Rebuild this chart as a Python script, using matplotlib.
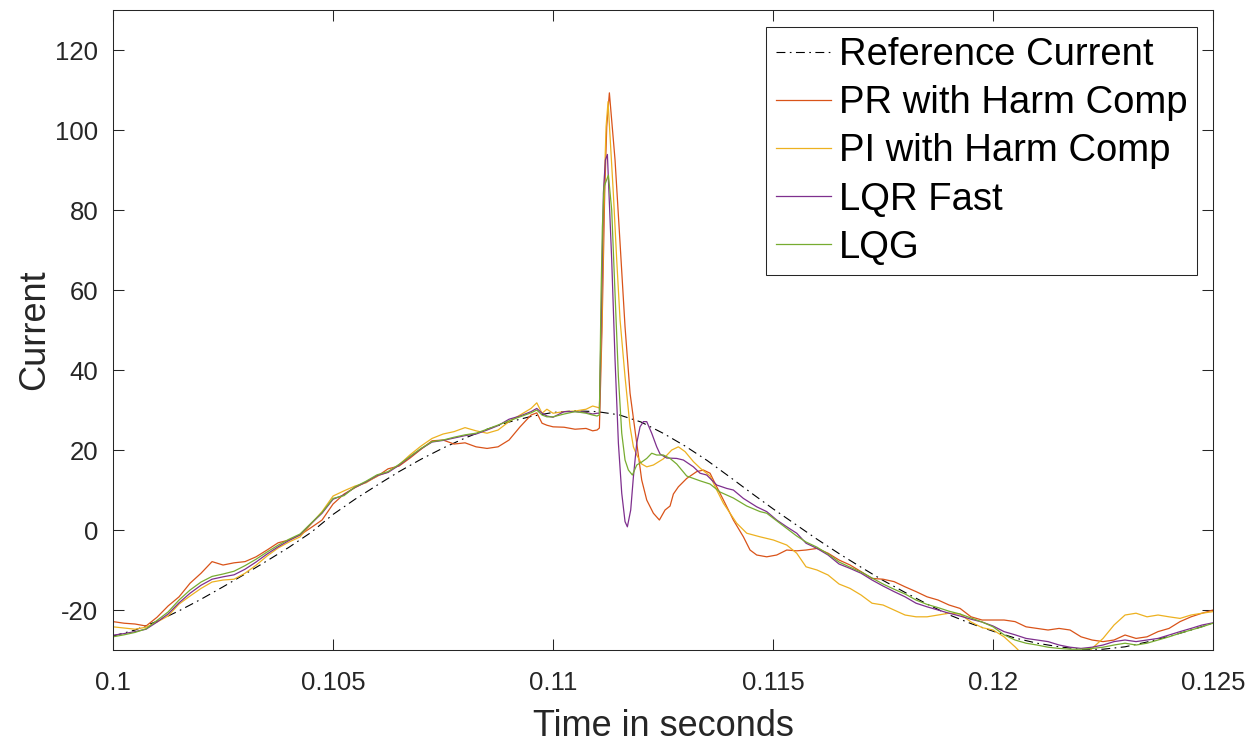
import matplotlib
matplotlib.use('Agg')
import matplotlib.pyplot as plt

plt.rcParams['font.family'] = ['Liberation Sans', 'DejaVu Sans']
plt.rcParams['axes.unicode_minus'] = False

# ---- data (time in s, current) ----
t_ref = [0.1000, 0.1005, 0.1010, 0.1015, 0.1020, 0.1025, 0.1030, 0.1035, 0.1040, 0.1045,
         0.1050, 0.1055, 0.1060, 0.1065, 0.1070, 0.1075, 0.1080, 0.1085, 0.1090, 0.1095,
         0.1100, 0.1105, 0.1110, 0.1115, 0.1120, 0.1125, 0.1130, 0.1135, 0.1140, 0.1145,
         0.1150, 0.1155, 0.1160, 0.1165, 0.1170, 0.1175, 0.1180, 0.1185, 0.1190, 0.1195,
         0.1200, 0.1205, 0.1210, 0.1215, 0.1220, 0.1225, 0.1230, 0.1235, 0.1240, 0.1245,
         0.1250]
i_ref = [-26.5, -25.0, -22.8, -20.2, -17.3, -14.2, -11.0, -7.7, -4.3, -0.6,
         3.9, 7.7, 11.2, 14.6, 17.7, 20.5, 23.0, 25.2, 27.0, 28.4,
         29.4, 29.8, 29.6, 28.8, 27.0, 24.2, 21.0, 17.4, 13.4, 9.3,
         5.3, 1.5, -2.3, -5.9, -9.3, -12.6, -15.6, -18.5, -21.2, -23.4,
         -25.3, -27.0, -28.3, -29.2, -29.8, -29.8, -29.2, -28.0, -26.6, -25.0,
         -23.3]

# time grid shared before the step (0.1 .. 0.111)
t_pre = [0.1000, 0.10025, 0.1005, 0.10075, 0.1010, 0.10125, 0.1015, 0.10175, 0.1020, 0.10225,
         0.1025, 0.10275, 0.1030, 0.10325, 0.1035, 0.10375, 0.1040, 0.10425, 0.1045, 0.10475,
         0.1050, 0.10525, 0.1055, 0.10575, 0.1060, 0.10625, 0.1065, 0.10675, 0.1070, 0.10725,
         0.1075, 0.10775, 0.1080, 0.10825, 0.1085, 0.10875, 0.1090, 0.10925, 0.1095, 0.10963,
         0.10975, 0.10986, 0.1100, 0.11025, 0.1105, 0.11075, 0.1109, 0.1110, 0.111053]
# time grid shared after the transient (0.11575 .. 0.125)
t_post = [0.11575, 0.1160, 0.11625, 0.1165, 0.11675, 0.1170, 0.11725, 0.1175, 0.11775, 0.1180,
          0.11825, 0.1185, 0.11875, 0.1190, 0.11925, 0.1195, 0.11975, 0.1200, 0.12025, 0.1205,
          0.12075, 0.1210, 0.12125, 0.1215, 0.12175, 0.1220, 0.12225, 0.1225, 0.12275, 0.1230,
          0.12325, 0.1235, 0.12375, 0.1240, 0.12425, 0.1245, 0.12475, 0.1250]

# PR with harmonic compensation
pr_pre = [-22.9, -23.3, -23.5, -24.0, -21.8, -19.0, -16.7, -13.3, -10.8, -7.9,
          -8.75, -8.2, -7.9, -6.7, -5.0, -3.2, -2.5, -1.25, 0.6, 2.5,
          6.5, 9.0, 10.6, 12.0, 13.4, 15.3, 16.0, 18.0, 20.2, 22.3,
          22.5, 21.5, 21.8, 20.8, 20.4, 20.8, 22.5, 25.8, 28.75, 29.3,
          26.7, 26.2, 25.8, 25.7, 25.2, 25.4, 24.8, 25.0, 25.5]
t_pr_mid = [0.111114, 0.111174, 0.111220, 0.111280, 0.111409, 0.111523, 0.111636, 0.111750,
            0.111902, 0.112015, 0.112129, 0.112280, 0.112417, 0.112545, 0.112659, 0.112735,
            0.112848, 0.113038, 0.113265, 0.113417, 0.113568, 0.113720, 0.113909, 0.114098,
            0.114326, 0.114477, 0.114629, 0.114856, 0.115083, 0.115311, 0.115538]
pr_mid = [50.8, 84.2, 100.8, 109.3, 92.5, 71.7, 50.8, 34.2,
          21.7, 12.5, 7.5, 4.2, 2.5, 5.0, 6.0, 9.0,
          10.8, 12.9, 14.6, 15.0, 14.2, 10.8, 6.7, 2.5,
          -1.7, -5.0, -6.25, -6.7, -6.25, -5.0, -5.2]
pr_post = [-5.0, -4.6, -5.8, -7.5, -8.75, -10.4, -12.1, -12.3, -12.9, -14.2,
           -15.4, -16.7, -17.5, -18.75, -19.6, -21.7, -22.5, -22.5, -22.5, -22.9,
           -24.2, -24.6, -25.0, -24.6, -25.0, -26.7, -27.5, -27.9, -27.5, -26.25,
           -27.1, -26.7, -25.4, -24.6, -22.9, -21.7, -20.8, -20.0]

# PI with harmonic compensation
pi_pre = [-24.2, -24.5, -24.8, -24.3, -23.0, -21.5, -18.5, -16.5, -14.6, -13.0,
          -12.5, -12.3, -10.8, -8.8, -6.5, -4.5, -3.0, -1.7, 1.5, 4.6,
          8.5, 9.8, 11.0, 11.8, 13.5, 14.5, 16.3, 18.8, 21.0, 22.9,
          24.0, 24.6, 25.6, 24.8, 24.2, 25.0, 27.1, 28.75, 30.4, 31.8,
          29.2, 30.2, 29.2, 29.6, 29.75, 30.2, 31.0, 30.7, 30.5]
t_pi_mid = [0.111106, 0.111159, 0.111205, 0.111250, 0.111371, 0.111447, 0.111523, 0.111636,
            0.111750, 0.111826, 0.111902, 0.112015, 0.112129, 0.112280, 0.112508, 0.112697,
            0.112848, 0.113000, 0.113189, 0.113341, 0.113568, 0.113720, 0.113871, 0.114023,
            0.114174, 0.114402, 0.114705, 0.115008, 0.115311, 0.115538]
pi_mid = [50.8, 84.2, 100.8, 107.1, 84.0, 67.5, 52.5, 38.3,
          25.8, 20.8, 18.75, 16.5, 15.8, 16.25, 17.8, 20.0,
          20.8, 19.6, 17.1, 15.5, 13.5, 10.0, 6.7, 4.2,
          1.7, -0.8, -1.7, -2.5, -3.75, -5.8]
pi_post = [-9.2, -10.0, -11.25, -13.5, -14.6, -16.25, -18.3, -18.75, -20.0, -21.25,
           -21.7, -21.7, -21.25, -20.8, -21.0, -23.0, -24.4, -25.0, -26.7, -29.2,
           -32.0, -34.0, -35.0, -35.0, -34.0, -33.0, -29.6, -27.1, -23.75, -21.25,
           -20.8, -21.7, -21.25, -21.7, -22.1, -21.25, -20.8, -20.4]

# LQR fast
lqr_pre = [-26.3, -25.9, -25.4, -24.8, -23.0, -21.0, -18.2, -15.8, -13.8, -12.3,
           -11.7, -11.2, -9.8, -8.0, -6.0, -4.2, -2.6, -1.2, 1.6, 4.2,
           7.7, 8.8, 10.7, 12.0, 13.6, 14.4, 16.2, 18.3, 20.3, 22.0,
           22.4, 23.0, 23.6, 24.0, 25.0, 26.1, 27.7, 28.5, 29.6, 30.4,
           29.2, 28.5, 28.2, 29.6, 29.6, 29.4, 29.0, 29.2, 29.2]
t_lqr_mid = [0.111106, 0.111144, 0.111189, 0.111235, 0.111333, 0.111409, 0.111485, 0.111561,
             0.111636, 0.111689, 0.111765, 0.111826, 0.111902, 0.111977, 0.112053, 0.112129,
             0.112242, 0.112356, 0.112432, 0.112583, 0.112811, 0.112962, 0.113189, 0.113341,
             0.113492, 0.113720, 0.113947, 0.114098, 0.114326, 0.114629, 0.114856, 0.115083,
             0.115311, 0.115538]
lqr_mid = [59.0, 84.2, 92.5, 93.9, 67.5, 42.5, 21.7, 9.2,
           2.1, 0.8, 5.0, 13.3, 21.7, 25.8, 27.1, 27.1,
           24.2, 20.8, 19.0, 18.0, 17.9, 17.5, 15.8, 14.2,
           13.75, 11.25, 10.4, 10.0, 7.9, 5.8, 4.6, 2.5,
           0.8, -0.8]
lqr_post = [-3.3, -4.6, -6.25, -8.5, -9.6, -10.8, -12.5, -14.0, -15.4, -16.7,
            -18.3, -19.2, -20.0, -20.8, -21.5, -22.3, -23.0, -24.0, -25.4, -26.2,
            -27.1, -27.5, -27.9, -28.75, -29.3, -29.6, -29.3, -28.75, -27.9, -27.5,
            -27.9, -27.5, -27.1, -26.25, -25.4, -24.6, -23.75, -23.2]

# LQG
lqg_pre = [-26.7, -26.2, -25.6, -24.7, -22.6, -20.5, -17.5, -15.0, -13.0, -11.6,
           -11.0, -10.3, -8.9, -7.3, -5.5, -3.8, -2.3, -1.0, 1.7, 4.4,
           7.9, 8.6, 10.8, 12.2, 13.8, 14.6, 16.4, 18.4, 20.4, 22.1,
           22.5, 23.2, 23.8, 24.2, 25.2, 26.25, 27.3, 28.3, 29.3, 30.0,
           28.75, 28.3, 28.3, 29.0, 29.6, 29.2, 28.75, 28.5, 28.8]
t_lqg_mid = [0.111091, 0.111121, 0.111159, 0.111258, 0.111333, 0.111409, 0.111485, 0.111561,
             0.111636, 0.111712, 0.111803, 0.111902, 0.112015, 0.112129, 0.112242, 0.112356,
             0.112508, 0.112659, 0.112811, 0.113038, 0.113341, 0.113568, 0.113795, 0.114098,
             0.114402, 0.114705, 0.114856, 0.115083, 0.115311, 0.115538]
lqg_mid = [59.0, 75.8, 85.8, 88.75, 80.0, 59.0, 38.3, 24.2,
           17.5, 15.0, 13.75, 16.25, 17.0, 17.9, 19.2, 18.75,
           18.75, 17.9, 16.5, 13.5, 12.3, 11.5, 9.5, 8.0,
           6.0, 4.6, 4.2, 2.3, 0.4, -1.5]
lqg_post = [-3.0, -4.3, -6.0, -8.0, -9.3, -10.5, -12.0, -13.5, -14.8, -16.0,
            -17.5, -18.6, -19.4, -20.3, -21.0, -22.0, -23.0, -24.2, -26.2, -27.5,
            -28.3, -28.75, -29.3, -29.6, -29.8, -29.8, -29.6, -29.3, -28.75, -28.3,
            -28.75, -28.3, -27.5, -26.7, -25.8, -25.0, -24.2, -23.3]

series = [
    ("PR with Harm Comp", '#D95319', t_pre + t_pr_mid + t_post, pr_pre + pr_mid + pr_post),
    ("PI with Harm Comp", '#EDB120', t_pre + t_pi_mid + t_post, pi_pre + pi_mid + pi_post),
    ("LQR Fast", '#7E2F8E', t_pre + t_lqr_mid + t_post, lqr_pre + lqr_mid + lqr_post),
    ("LQG", '#77AC30', t_pre + t_lqg_mid + t_post, lqg_pre + lqg_mid + lqg_post),
]

x_ticks = [0.1, 0.105, 0.11, 0.115, 0.12, 0.125]
x_tick_labels = ['0.1', '0.105', '0.11', '0.115', '0.12', '0.125']
y_ticks = [-20, 0, 20, 40, 60, 80, 100, 120]

axis_color = '#262626'

fig = plt.figure(figsize=(12.59, 7.45), dpi=100)
ax = fig.add_axes([0.0898, 0.1275, 0.8737, 0.859])

ax.plot(t_ref, i_ref, color='black', lw=0.8, linestyle=(0, (8, 4, 1.5, 4)),
        label='Reference Current')
for name, col, t, y in series:
    ax.plot(t, y, color=col, lw=0.9, label=name)

ax.set_xlim(0.1, 0.125)
ax.set_ylim(-30, 130)
ax.set_xticks(x_ticks)
ax.set_xticklabels(x_tick_labels)
ax.set_yticks(y_ticks)
ax.set_yticklabels([str(v) for v in y_ticks])
ax.tick_params(direction='in', length=8, width=0.75, top=True, right=True,
               labelsize=18.5, colors=axis_color)
ax.tick_params(axis='x', pad=15)
ax.tick_params(axis='y', pad=10.5)
for sp in ax.spines.values():
    sp.set_color(axis_color)
    sp.set_linewidth(0.75)

ax.set_xlabel('Time in seconds', fontsize=26, color=axis_color, labelpad=10)
ax.set_ylabel('Current', fontsize=26, color=axis_color, labelpad=2)

leg = ax.legend(loc='upper right', bbox_to_anchor=(0.9855, 0.973), fontsize=27.5,
                frameon=True, fancybox=False, edgecolor=axis_color,
                handlelength=1.45, handletextpad=0.2, labelspacing=0.32,
                borderpad=0.25, borderaxespad=0)
leg.get_frame().set_linewidth(0.75)
leg.get_frame().set_alpha(1)

plt.savefig('out.png', dpi=100)
